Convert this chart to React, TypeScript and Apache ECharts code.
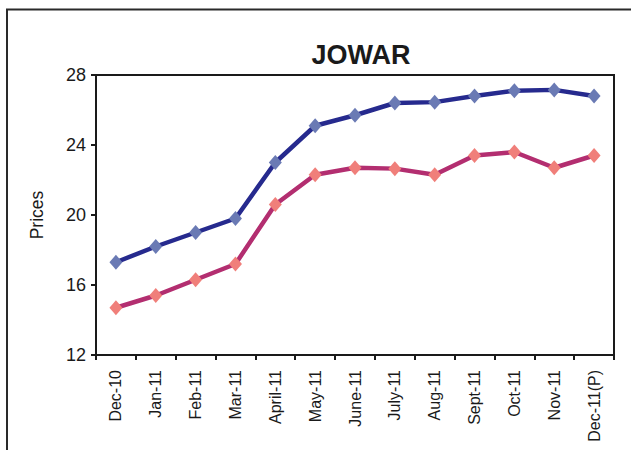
import React, { useEffect, useRef } from "react";
import * as echarts from "echarts";

const categories = [
  "Dec-10", "Jan-11", "Feb-11", "Mar-11", "April-11", "May-11", "June-11",
  "July-11", "Aug-11", "Sept-11", "Oct-11", "Nov-11", "Dec-11(P)",
];
const seriesBlue = [17.3, 18.2, 19.0, 19.8, 23.0, 25.1, 25.7, 26.4, 26.45, 26.8, 27.1, 27.15, 26.8];
const seriesRed = [14.7, 15.4, 16.3, 17.2, 20.6, 22.3, 22.7, 22.65, 22.3, 23.4, 23.6, 22.7, 23.4];
const yTicks = { min: 12, max: 28, interval: 4 };

const FONT = "'Liberation Sans', Arial, sans-serif";

export default function App() {
  const ref = useRef<HTMLDivElement>(null);
  useEffect(() => {
    if (!ref.current) return;
    const chart = echarts.init(ref.current, undefined, { renderer: "svg" });
    chart.setOption({
      animation: false,
      backgroundColor: "#ffffff",
      title: {
        text: "JOWAR",
        left: 356,
        top: 36,
        textAlign: "center",
        textStyle: { fontFamily: FONT, fontSize: 27, fontWeight: "bold", color: "#1a1a1a" },
      },
      graphic: [
        {
          type: "rect",
          shape: { x: 7, y: 9.5, width: 700, height: 500 },
          style: { fill: "none", stroke: "#2a2a2a", lineWidth: 2 },
          silent: true,
        },
        {
          type: "text",
          x: 37,
          y: 215,
          rotation: Math.PI / 2,
          style: {
            text: "Prices",
            fontFamily: FONT,
            fontSize: 17.5,
            fill: "#1a1a1a",
            textAlign: "center",
            textVerticalAlign: "middle",
          },
        },
      ],
      grid: {
        left: 96,
        right: 17,
        top: 75,
        bottom: 95,
        show: true,
        borderColor: "#1a1a1a",
        borderWidth: 2,
        backgroundColor: "transparent",
      },
      xAxis: {
        type: "category",
        data: categories,
        boundaryGap: true,
        axisLine: { lineStyle: { color: "#1a1a1a", width: 2 } },
        axisTick: { show: true, alignWithLabel: false, length: 5, lineStyle: { color: "#1a1a1a", width: 2 } },
        axisLabel: {
          rotate: 90,
          interval: 0,
          margin: 15,
          fontFamily: FONT,
          fontSize: 16,
          color: "#1a1a1a",
        },
        splitLine: { show: false },
      },
      yAxis: {
        type: "value",
        min: yTicks.min,
        max: yTicks.max,
        interval: yTicks.interval,
        axisLine: { show: true, lineStyle: { color: "#1a1a1a", width: 2 } },
        axisTick: { show: true, length: 5, lineStyle: { color: "#1a1a1a", width: 2 } },
        axisLabel: { margin: 10, fontFamily: FONT, fontSize: 18, color: "#1a1a1a" },
        splitLine: { show: false },
      },
      series: [
        {
          name: "Series 1",
          type: "line",
          data: seriesBlue,
          symbol: "diamond",
          symbolSize: [13, 15],
          lineStyle: { color: "#262a8e", width: 4.5 },
          itemStyle: { color: "#6a7ab4", borderWidth: 0 },
          z: 3,
        },
        {
          name: "Series 2",
          type: "line",
          data: seriesRed,
          symbol: "diamond",
          symbolSize: [13, 15],
          lineStyle: { color: "#b32e70", width: 4.5 },
          itemStyle: { color: "#f07f7a", borderWidth: 0 },
          z: 2,
        },
      ],
    });
    return () => chart.dispose();
  }, []);
  return (
    <div
      ref={ref}
      style={{ position: "absolute", left: 0, top: 0, width: 631, height: 450 }}
    />
  );
}
